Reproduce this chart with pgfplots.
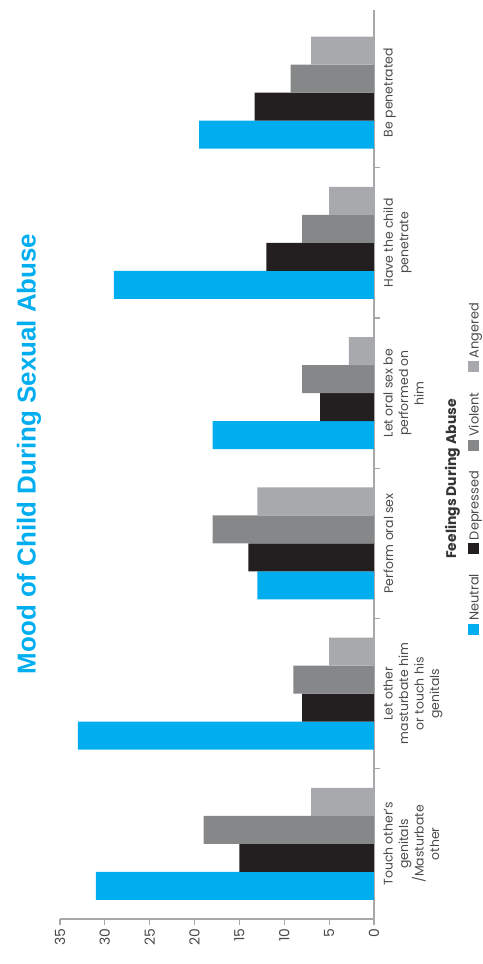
\documentclass[border=0pt]{standalone}
\usepackage{fontspec}
\setmainfont{Poppins}
\newfontfamily\titlefont{Liberation Sans}
\usepackage{pgfplots}
\pgfplotsset{compat=1.18}
\definecolor{cNeutral}{HTML}{00AEEF}
\definecolor{cDepressed}{HTML}{231F20}
\definecolor{cViolent}{HTML}{868789}
\definecolor{cAngered}{HTML}{A7A9AC}
\definecolor{cText}{HTML}{4A4A4C}
\definecolor{cAxis}{HTML}{A8A8A8}
\newcommand{\legsq}[1]{\textcolor{#1}{\rule[-0.5bp]{11bp}{11bp}}\hspace{3bp}}
\begin{document}
\begin{tikzpicture}
\path[use as bounding box] (0bp,0bp) rectangle (483bp,964bp);
\begin{axis}[
  at={(217bp,499.5bp)}, anchor=center,
  width=314bp, height=909bp, scale only axis,
  xbar, bar width=28bp,
  xmin=0, xmax=35, x dir=reverse,
  ymin=0.5, ymax=6.55,
  axis x line*=bottom, axis y line*=right,
  axis line style={draw=cAxis, line width=1.6bp, -},
  tick align=outside,
  xtick={0,5,...,35},
  major tick length=6bp, minor tick length=6bp,
  x tick style={draw=cAxis, line width=1.2bp},
  ytick={1,2,3,4,5,6},
  major y tick style={draw=none},
  minor ytick={1.5,2.5,3.5,4.5,5.5},
  minor y tick style={draw=cAxis, line width=1.2bp},
  yticklabels={{Touch other’s\\genitals\\/Masturbate\\other},{Let other\\masturbate him\\or touch his\\genitals},{Perform oral sex},{Let oral sex be\\performed on\\him},{Have the child\\penetrate},{Be penetrated}},
  yticklabel style={rotate=90, anchor=north, align=center, font=\fontsize{12.5}{15.5}\selectfont, text=cText},
  xticklabel style={rotate=90, anchor=east, font=\fontsize{14}{16}\selectfont, text=cText},
  /pgf/number format/assume math mode=true,
]
\addplot[fill=cNeutral, draw=none, bar shift=-42bp] coordinates {(31,1) (33,2) (13,3) (18,4) (29,5) (19.5,6)};
\addplot[fill=cDepressed, draw=none, bar shift=-14bp] coordinates {(15,1) (8,2) (14,3) (6,4) (12,5) (13.3,6)};
\addplot[fill=cViolent, draw=none, bar shift=14bp] coordinates {(19,1) (9,2) (18,3) (8,4) (8,5) (9.3,6)};
\addplot[fill=cAngered, draw=none, bar shift=42bp] coordinates {(7,1) (5,2) (13,3) (2.8,4) (5,5) (7,6)};
\end{axis}
\node[rotate=90, font=\bfseries\fontsize{14}{16}\selectfont, text=cText!70!black] at (452.5bp, 485bp) {Feelings During Abuse};
\node[rotate=90, inner sep=0pt, font=\fontsize{13}{15}\selectfont, text=cText] at (475bp, 495bp) {\legsq{cNeutral}Neutral\hspace{20bp}\legsq{cDepressed}Depressed\hspace{20bp}\legsq{cViolent}Violent\hspace{20bp}\legsq{cAngered}Angered};
\node[rotate=90, text=cNeutral, font=\titlefont\bfseries\fontsize{26}{30}\selectfont] at (29bp, 510bp) {Mood of Child During Sexual Abuse};
\end{tikzpicture}
\end{document}
